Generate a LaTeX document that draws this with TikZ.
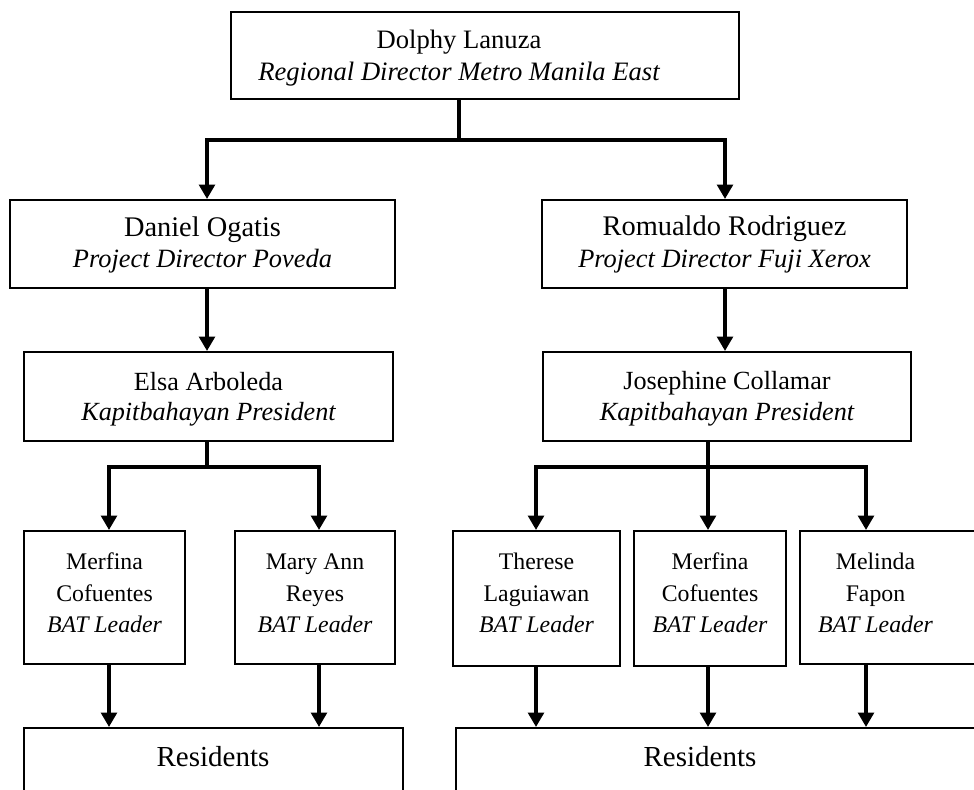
\documentclass[tikz,border=0pt]{standalone}
\usepackage{fontspec}
\setmainfont{Liberation Serif}
\usetikzlibrary{arrows.meta,fit}
\begin{document}
\begin{tikzpicture}[x=0.5pt,y=-0.5pt,
  box/.style={draw, line width=1pt, inner sep=0pt, rectangle},
  conn/.style={line width=2.35pt, line join=miter},
  arr/.style={conn, -{Triangle[width=7.8pt,length=7.2pt]}},
  tx/.style={inner sep=0pt, anchor=base},
  fa/.style={font=\fontsize{13.3}{16}\selectfont},
  fb/.style={font=\fontsize{14.2}{16}\selectfont},
  fbi/.style={font=\fontsize{13.2}{16}\selectfont\itshape},
  fc/.style={font=\fontsize{13.1}{16}\selectfont},
  fd/.style={font=\fontsize{11.9}{16}\selectfont},
  fe/.style={font=\fontsize{14.5}{16}\selectfont}]
\useasboundingbox (0,0) rectangle (974,789);
\clip (0,0) rectangle (974,789);

% boxes
\node[box, fit={(231,12) (739,99)}] (top) {};
\node[box, fit={(10,200) (395,288)}] (dan) {};
\node[box, fit={(542,200) (907,288)}] (rom) {};
\node[box, fit={(24,352) (393,441)}] (elsa) {};
\node[box, fit={(543,352) (911,441)}] (jos) {};
\node[box, fit={(24,531) (185,664)}] (mer1) {};
\node[box, fit={(235,531) (395,664)}] (mary) {};
\node[box, fit={(453,531) (620,666)}] (ther) {};
\node[box, fit={(634,531) (786,666)}] (mer2) {};
\node[box, fit={(800,531) (990,664)}] (mel) {};
\node[box, fit={(24,728) (403,810)}] (res1) {};
\node[box, fit={(456,728) (990,810)}] (res2) {};

% texts
\node[tx,fa] (t1a) at (459,48) {Dolphy Lanuza};
\node[tx,fa] (t1b) at (459,80) {\itshape Regional Director Metro Manila East};
\node[tx,fb] (t2a) at (202.5,236) {Daniel Ogatis};
\node[tx,fbi] (t2b) at (202.5,267) {Project Director Poveda};
\node[tx,fb] (t3a) at (724.5,235) {Romualdo Rodriguez};
\node[tx,fbi] (t3b) at (724.5,267) {Project Director Fuji Xerox};
\node[tx,fc] (t4a) at (208.5,390) {Elsa Arboleda};
\node[tx,fc] (t4b) at (208.5,420) {\itshape Kapitbahayan President};
\node[tx,fc] (t5a) at (727,389) {Josephine Collamar};
\node[tx,fc] (t5b) at (727,420) {\itshape Kapitbahayan President};
\node[tx,fd] (t6a) at (104.5,569) {Merfina};
\node[tx,fd] (t6b) at (104.5,601) {Cofuentes};
\node[tx,fd] (t6c) at (104.5,632) {\itshape BAT Leader};
\node[tx,fd] (t7a) at (315,569) {Mary Ann};
\node[tx,fd] (t7b) at (315,601) {Reyes};
\node[tx,fd] (t7c) at (315,632) {\itshape BAT Leader};
\node[tx,fd] (t8a) at (536.5,569) {Therese};
\node[tx,fd] (t8b) at (536.5,601) {Laguiawan};
\node[tx,fd] (t8c) at (536.5,632) {\itshape BAT Leader};
\node[tx,fd] (t9a) at (710,569) {Merfina};
\node[tx,fd] (t9b) at (710,601) {Cofuentes};
\node[tx,fd] (t9c) at (710,632) {\itshape BAT Leader};
\node[tx,fd] (t10a) at (875.5,569) {Melinda};
\node[tx,fd] (t10b) at (875.5,601) {Fapon};
\node[tx,fd] (t10c) at (875.5,632) {\itshape BAT Leader};
\node[tx,fe] (t11) at (213,766) {Residents};
\node[tx,fe] (t12) at (700,766) {Residents};

% bus points
\coordinate (bT) at (459,140);
\coordinate (bTl) at (207,140);
\coordinate (bTr) at (725,140);
\coordinate (bL) at (207,467);
\coordinate (bL1) at (109,467);
\coordinate (bL2) at (319,467);
\coordinate (bR) at (708,467);
\coordinate (bR1) at (536,467);
\coordinate (bR3) at (866,467);

% connectors
\draw[conn] (top.south -| bT) -- (bT);
\draw[arr] (bT) -- (bTl) -- (dan.north -| bTl);
\draw[arr] (bT) -- (bTr) -- (rom.north -| bTr);
\draw[arr] (dan.south -| bTl) -- (elsa.north -| bTl);
\draw[arr] (rom.south -| bTr) -- (jos.north -| bTr);

\draw[conn] (elsa.south -| bL) -- (bL);
\draw[arr] (bL) -- (bL1) -- (mer1.north -| bL1);
\draw[arr] (bL) -- (bL2) -- (mary.north -| bL2);
\draw[arr] (mer1.south -| bL1) -- (res1.north -| bL1);
\draw[arr] (mary.south -| bL2) -- (res1.north -| bL2);

\draw[conn] (jos.south -| bR) -- (bR);
\draw[arr] (bR) -- (bR1) -- (ther.north -| bR1);
\draw[arr] (bR) -- (mer2.north -| bR);
\draw[arr] (bR) -- (bR3) -- (mel.north -| bR3);
\draw[arr] (ther.south -| bR1) -- (res2.north -| bR1);
\draw[arr] (mer2.south -| bR) -- (res2.north -| bR);
\draw[arr] (mel.south -| bR3) -- (res2.north -| bR3);
\end{tikzpicture}
\end{document}
